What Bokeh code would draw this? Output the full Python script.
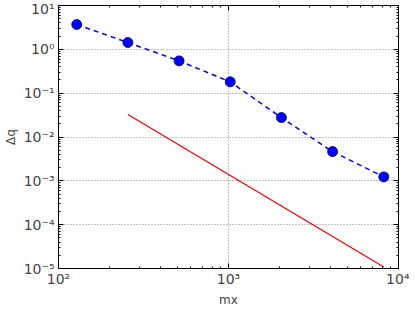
from bokeh.plotting import figure
from bokeh.models import LogAxis, FixedTicker, ColumnDataSource, CustomLabelingPolicy
from bokeh.embed import file_html
from bokeh.resources import INLINE

# data
mx = [128, 256, 512, 1024, 2048, 4096, 8192]
dq = [3.68, 1.43, 0.545, 0.181, 0.0277, 0.00464, 0.00123]
ref_mx = [256, 512, 1024, 2048, 4096, 8192]
ref_dq = [0.0325, 0.00655, 0.00132, 0.000266, 0.0000537, 0.0000108]

x_ticks = [100, 1000, 10000]
x_labels = ["10²", "10³", "10⁴"]
y_ticks = [1e-5, 1e-4, 1e-3, 1e-2, 1e-1, 1, 10]
y_labels = ["10⁻⁵", "10⁻⁴", "10⁻³", "10⁻²", "10⁻¹", "10⁰", "10¹"]


def minors(ticks):
    out = []
    for t in ticks[:-1]:
        out += [t * k for k in range(2, 10)]
    return out


p = figure(output_backend="svg", toolbar_location=None,
           x_axis_type="log", y_axis_type="log",
           x_range=(100, 10000), y_range=(1e-5, 10),
           frame_width=340, frame_height=263,
           min_border_left=49, min_border_top=5, min_border_right=11, min_border_bottom=4)
p.outline_line_color = "black"
p.outline_line_width = 1
p.background_fill_color = "white"
p.border_fill_color = "white"

p.add_layout(LogAxis(), "right")
p.add_layout(LogAxis(), "above")

for ax in p.xaxis + p.yaxis:
    vertical = ax in p.yaxis
    ticks = y_ticks if vertical else x_ticks
    labels = y_labels if vertical else x_labels
    ax.ticker = FixedTicker(ticks=ticks, minor_ticks=minors(ticks))
    ax.major_label_overrides = {t: l for t, l in zip(ticks, labels)}
    ax.major_label_text_font = "DejaVu Sans"
    ax.major_label_text_font_size = "14px"
    ax.major_tick_in = 5
    ax.major_tick_out = 0
    ax.minor_tick_in = 2
    ax.minor_tick_out = 0
    ax.axis_line_color = "black"
    ax.axis_label_text_font = "DejaVu Sans"
    ax.axis_label_text_font_size = "12px"
    ax.axis_label_text_font_style = "normal"

for ax in (p.right[0], p.above[0]):
    ax.major_label_overrides = {t: "" for t in ax.ticker.ticks}
    ax.major_label_policy = CustomLabelingPolicy(code="return new Set()")
    ax.major_label_standoff = 0
    ax.axis_label = None

p.below[0].axis_label = "mx"
p.left[0].axis_label = "Δq"
p.below[0].major_label_standoff = 2
p.left[0].major_label_standoff = 4
p.below[0].axis_label_standoff = 3
p.left[0].axis_label_standoff = 3

p.xgrid.ticker = FixedTicker(ticks=x_ticks)
p.ygrid.ticker = FixedTicker(ticks=y_ticks)
for g in (p.xgrid[0], p.ygrid[0]):
    g.grid_line_color = "#888888"
    g.grid_line_dash = "1 2"
    g.grid_line_width = 1

src = ColumnDataSource(dict(x=mx, y=dq))
p.line("x", "y", source=src, line_color="blue", line_dash="5 4", line_width=1.5)
p.scatter("x", "y", source=src, size=10, fill_color="blue", line_color="#000040", line_width=0.8)
p.line(ref_mx, ref_dq, line_color="red", line_width=1.3)

open("out.html", "w").write(file_html(p, INLINE))
